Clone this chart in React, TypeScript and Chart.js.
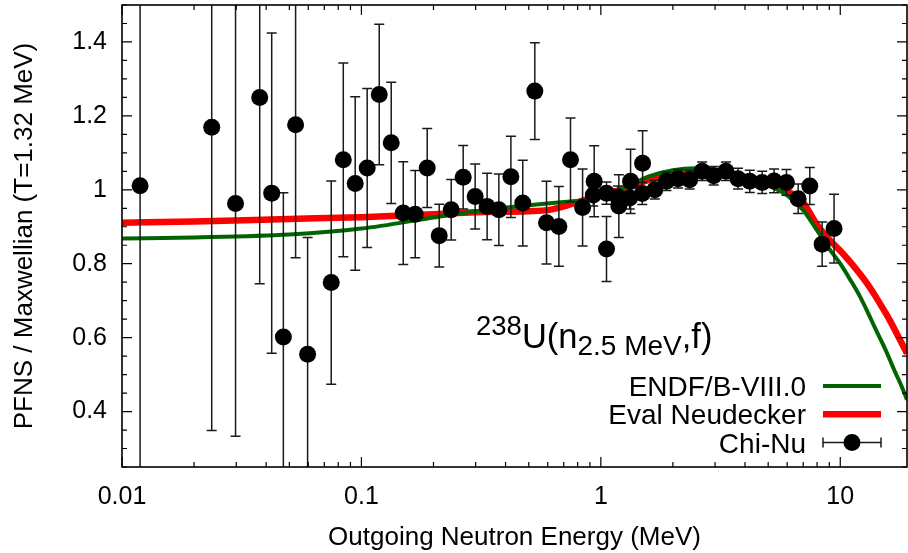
import React, { useEffect, useRef } from 'react';
import { Chart, registerables } from 'chart.js';

Chart.register(...registerables);

const FONT = "'Liberation Sans', Arial, Helvetica, sans-serif";

// Chi-Nu measured ratio (outgoing energy MeV, value, 1-sigma error)
const chinuEnergy = [
  0.0119, 0.0237, 0.0298, 0.0376, 0.0422, 0.0472, 0.0531, 0.0596, 0.0748, 0.084,
  0.0942, 0.1057, 0.1187, 0.1332, 0.1495, 0.1678, 0.1883, 0.2113, 0.2371, 0.2661,
  0.2986, 0.335, 0.375, 0.421, 0.472, 0.53, 0.593, 0.668, 0.747, 0.839,
  0.938, 1.056, 1.189, 1.331, 1.494,
  0.93, 1.056, 1.18, 1.32, 1.49, 1.68, 1.88, 2.1, 2.35, 2.65,
  2.96, 3.33, 3.74, 4.19, 4.72, 5.29, 5.96, 6.67, 7.46, 8.4, 9.42,
];
const chinuValue = [
  1.011, 1.169, 0.963, 1.25, 0.991, 0.602, 1.176, 0.555, 0.749, 1.081,
  1.017, 1.059, 1.258, 1.127, 0.937, 0.934, 1.059, 0.876, 0.946, 1.034,
  0.982, 0.955, 0.946, 1.035, 0.964, 1.267, 0.911, 0.901, 1.081, 0.952,
  1.023, 0.84, 0.956, 1.023, 1.072,
  0.986, 0.991, 0.98, 0.978, 0.99, 1.0, 1.023, 1.03, 1.027, 1.05,
  1.038, 1.05, 1.03, 1.023, 1.02, 1.024, 1.02, 0.976, 1.01, 0.853, 0.895,
];
const chinuError = [
  0.9, 0.82, 0.63, 0.504, 0.433, 0.39, 0.36, 0.316, 0.275, 0.262,
  0.235, 0.215, 0.19, 0.164, 0.139, 0.118, 0.107, 0.085, 0.082, 0.086,
  0.088, 0.09, 0.097, 0.11, 0.116, 0.131, 0.112, 0.108, 0.113, 0.104,
  0.096, 0.088, 0.085, 0.087, 0.088,
  0.03, 0.03, 0.03, 0.03, 0.03, 0.025, 0.025, 0.025, 0.025, 0.025,
  0.025, 0.025, 0.028, 0.03, 0.03, 0.032, 0.035, 0.04, 0.05, 0.06, 0.093,
];

// ENDF/B-VIII.0 evaluation
const endfEnergy = [0.01, 0.02, 0.05, 0.1, 0.2, 0.3, 0.5, 0.7, 0.9, 1.1, 1.3, 1.6, 2.0, 2.5, 3.0, 4.0, 5.0, 6.0, 7.0, 8.0, 9.0, 10, 11, 12, 13, 14, 15, 16, 17, 18, 19];
const endfValue = [0.868, 0.871, 0.879, 0.895, 0.925, 0.942, 0.958, 0.967, 0.974, 0.988, 1.01, 1.037, 1.053, 1.058, 1.055, 1.038, 1.012, 0.985, 0.945, 0.89, 0.84, 0.8, 0.757, 0.715, 0.67, 0.625, 0.585, 0.545, 0.505, 0.47, 0.432];

// Neudecker evaluation
const neudeckerEnergy = [0.01, 0.02, 0.05, 0.1, 0.2, 0.3, 0.5, 0.6, 0.7, 0.9, 1.1, 1.3, 1.6, 2.0, 2.5, 3.0, 4.0, 5.0, 6.0, 7.0, 8.0, 9.0, 10, 11, 12, 13, 14, 15, 16, 17, 18, 19];
const neudeckerValue = [0.911, 0.914, 0.921, 0.926, 0.934, 0.939, 0.942, 0.945, 0.955, 0.977, 0.993, 1.005, 1.028, 1.043, 1.048, 1.047, 1.033, 1.018, 0.997, 0.965, 0.905, 0.865, 0.835, 0.805, 0.775, 0.745, 0.713, 0.681, 0.65, 0.618, 0.587, 0.557];

const xTickValues = [0.01, 0.1, 1, 10];
const xTickLabels = ['0.01', '0.1', '1', '10'];
const yTickValues = [0.4, 0.6, 0.8, 1.0, 1.2, 1.4];
const yTickLabels = ['0.4', '0.6', '0.8', '1', '1.2', '1.4'];
const legendLabels = ['ENDF/B-VIII.0', 'Eval Neudecker', 'Chi-Nu'];

const X_MIN = 0.01;
const X_MAX = 19;
const Y_MIN = 0.25;
const Y_MAX = 1.5;

const GREEN = '#006400';
const RED = '#ff0000';

const errorBarPlugin = {
  id: 'errorBars',
  beforeDatasetDraw(chart: any, args: any) {
    if (args.index !== 0) return;
    const { ctx, chartArea, scales } = chart;
    ctx.save();
    ctx.beginPath();
    ctx.rect(chartArea.left, chartArea.top, chartArea.right - chartArea.left, chartArea.bottom - chartArea.top);
    ctx.clip();
    ctx.strokeStyle = '#1a1a1a';
    ctx.lineWidth = 1.5;
    for (let i = 0; i < chinuEnergy.length; i++) {
      const x = scales.x.getPixelForValue(chinuEnergy[i]);
      const y1 = scales.y.getPixelForValue(chinuValue[i] + chinuError[i]);
      const y2 = scales.y.getPixelForValue(chinuValue[i] - chinuError[i]);
      ctx.beginPath();
      ctx.moveTo(x, y1);
      ctx.lineTo(x, y2);
      ctx.moveTo(x - 5, y1);
      ctx.lineTo(x + 5, y1);
      ctx.moveTo(x - 5, y2);
      ctx.lineTo(x + 5, y2);
      ctx.stroke();
    }
    ctx.restore();
  },
};

const framePlugin = {
  id: 'frameTicks',
  afterDraw(chart: any) {
    const { ctx, chartArea, scales } = chart;
    const { left, right, top, bottom } = chartArea;
    ctx.save();
    ctx.strokeStyle = '#000';
    ctx.lineWidth = 1.2;
    ctx.beginPath();
    // x ticks (log)
    for (let d = -2; d <= 1; d++) {
      for (let k = 1; k <= 9; k++) {
        const v = k * Math.pow(10, d);
        if (v < X_MIN - 1e-9 || v > X_MAX) continue;
        const x = scales.x.getPixelForValue(v);
        const len = k === 1 ? 10 : 5;
        ctx.moveTo(x, bottom);
        ctx.lineTo(x, bottom - len);
        ctx.moveTo(x, top);
        ctx.lineTo(x, top + len);
      }
    }
    // y ticks
    for (let i = 5; i <= 30; i++) {
      const v = i * 0.05;
      const major = yTickValues.some((t) => Math.abs(t - v) < 1e-6);
      const y = scales.y.getPixelForValue(v);
      const len = major ? 10 : 5;
      ctx.moveTo(left, y);
      ctx.lineTo(left + len, y);
      ctx.moveTo(right, y);
      ctx.lineTo(right - len, y);
    }
    ctx.stroke();
    ctx.lineWidth = 1.6;
    ctx.strokeRect(left, top, right - left, bottom - top);

    // legend
    const sampleEnd = right - 26;
    const sampleStart = sampleEnd - 58;
    const textRight = sampleStart - 17;
    const rowSpacing = 28.3;
    const lastRow = bottom - 24.5;
    const rows = [lastRow - 2 * rowSpacing, lastRow - rowSpacing, lastRow];
    ctx.fillStyle = '#000';
    ctx.font = `28px ${FONT}`;
    ctx.textAlign = 'right';
    ctx.textBaseline = 'alphabetic';
    legendLabels.forEach((lab, i) => {
      ctx.fillText(lab, textRight, rows[i] + 10);
    });
    ctx.lineCap = 'butt';
    ctx.strokeStyle = GREEN;
    ctx.lineWidth = 4;
    ctx.beginPath();
    ctx.moveTo(sampleStart, rows[0]);
    ctx.lineTo(sampleEnd, rows[0]);
    ctx.stroke();
    ctx.strokeStyle = RED;
    ctx.lineWidth = 6.5;
    ctx.beginPath();
    ctx.moveTo(sampleStart, rows[1]);
    ctx.lineTo(sampleEnd, rows[1]);
    ctx.stroke();
    ctx.strokeStyle = '#1a1a1a';
    ctx.lineWidth = 1.5;
    ctx.beginPath();
    ctx.moveTo(sampleStart, rows[2]);
    ctx.lineTo(sampleEnd, rows[2]);
    ctx.moveTo(sampleStart, rows[2] - 5);
    ctx.lineTo(sampleStart, rows[2] + 5);
    ctx.moveTo(sampleEnd, rows[2] - 5);
    ctx.lineTo(sampleEnd, rows[2] + 5);
    ctx.stroke();
    ctx.fillStyle = '#000';
    ctx.beginPath();
    ctx.arc((sampleStart + sampleEnd) / 2, rows[2], 8.5, 0, Math.PI * 2);
    ctx.fill();

    // reaction annotation
    let ax = left + 354;
    const base = bottom - 119;
    ctx.textAlign = 'left';
    ctx.fillStyle = '#000';
    const parts: [string, number, number][] = [
      ['238', 27.5, -13],
      ['U(n', 34.5, 0],
      ['2.5 MeV', 28, 7],
      [',f)', 34.5, 0],
    ];
    parts.forEach(([t, size, dy]) => {
      ctx.font = `${size}px ${FONT}`;
      ctx.fillText(t, ax, base + dy);
      ax += ctx.measureText(t).width;
    });
    ctx.restore();
  },
};

export default function App() {
  const ref = useRef<HTMLCanvasElement | null>(null);
  useEffect(() => {
    if (!ref.current) return;
    const chart = new Chart(ref.current, {
      type: 'scatter',
      data: {
        datasets: [
          {
            label: legendLabels[2],
            data: chinuEnergy.map((e, i) => ({ x: e, y: chinuValue[i] })),
            backgroundColor: '#000',
            borderWidth: 0,
            pointRadius: 8.5,
            pointHoverRadius: 8.5,
            order: 0,
          },
          {
            label: legendLabels[0],
            data: endfEnergy.map((e, i) => ({ x: e, y: endfValue[i] })),
            showLine: true,
            borderColor: GREEN,
            borderWidth: 4,
            pointRadius: 0,
            cubicInterpolationMode: 'monotone',
            order: 1,
          },
          {
            label: legendLabels[1],
            data: neudeckerEnergy.map((e, i) => ({ x: e, y: neudeckerValue[i] })),
            showLine: true,
            borderColor: RED,
            borderWidth: 6.5,
            pointRadius: 0,
            cubicInterpolationMode: 'monotone',
            order: 2,
          },
        ],
      } as any,
      options: {
        animation: false,
        responsive: true,
        maintainAspectRatio: false,
        layout: { autoPadding: false, padding: { left: 0, right: 1, top: 5, bottom: 0 } },
        plugins: { legend: { display: false }, tooltip: { enabled: false } },
        events: [],
        scales: {
          x: {
            type: 'logarithmic',
            min: X_MIN,
            max: X_MAX,
            grid: { display: false, drawTicks: false },
            border: { display: false },
            afterBuildTicks: (s: any) => {
              s.ticks = xTickValues.map((v) => ({ value: v }));
            },
            afterFit: (s: any) => {
              s.height = 86;
              s.paddingLeft = 0;
              s.paddingRight = 0;
            },
            ticks: {
              autoSkip: false,
              maxRotation: 0,
              padding: 15,
              color: '#000',
              font: { family: FONT, size: 25 },
              callback: (v: any) => {
                const i = xTickValues.findIndex((t) => Math.abs(t - Number(v)) < 1e-9);
                return i >= 0 ? xTickLabels[i] : '';
              },
            },
            title: {
              display: true,
              text: 'Outgoing Neutron Energy (MeV)',
              color: '#000',
              font: { family: FONT, size: 26 },
              padding: { top: 0, bottom: 0 },
            },
          },
          y: {
            type: 'linear',
            min: Y_MIN,
            max: Y_MAX,
            grid: { display: false, drawTicks: false },
            border: { display: false },
            afterBuildTicks: (s: any) => {
              s.ticks = yTickValues.map((v) => ({ value: v }));
            },
            afterFit: (s: any) => {
              s.width = 122;
              s.paddingTop = 0;
              s.paddingBottom = 0;
            },
            ticks: {
              autoSkip: false,
              padding: 15,
              color: '#000',
              font: { family: FONT, size: 25 },
              callback: (v: any) => {
                const i = yTickValues.findIndex((t) => Math.abs(t - Number(v)) < 1e-9);
                return i >= 0 ? yTickLabels[i] : '';
              },
            },
            title: {
              display: true,
              text: 'PFNS / Maxwellian (T=1.32 MeV)',
              color: '#000',
              font: { family: FONT, size: 26 },
              padding: { top: 9, bottom: 0 },
            },
          },
        },
      } as any,
      plugins: [errorBarPlugin, framePlugin],
    });
    return () => chart.destroy();
  }, []);
  return (
    <div style={{ position: 'fixed', left: 0, top: 0, width: 908, height: 553, background: '#fff' }}>
      <canvas ref={ref} />
    </div>
  );
}
